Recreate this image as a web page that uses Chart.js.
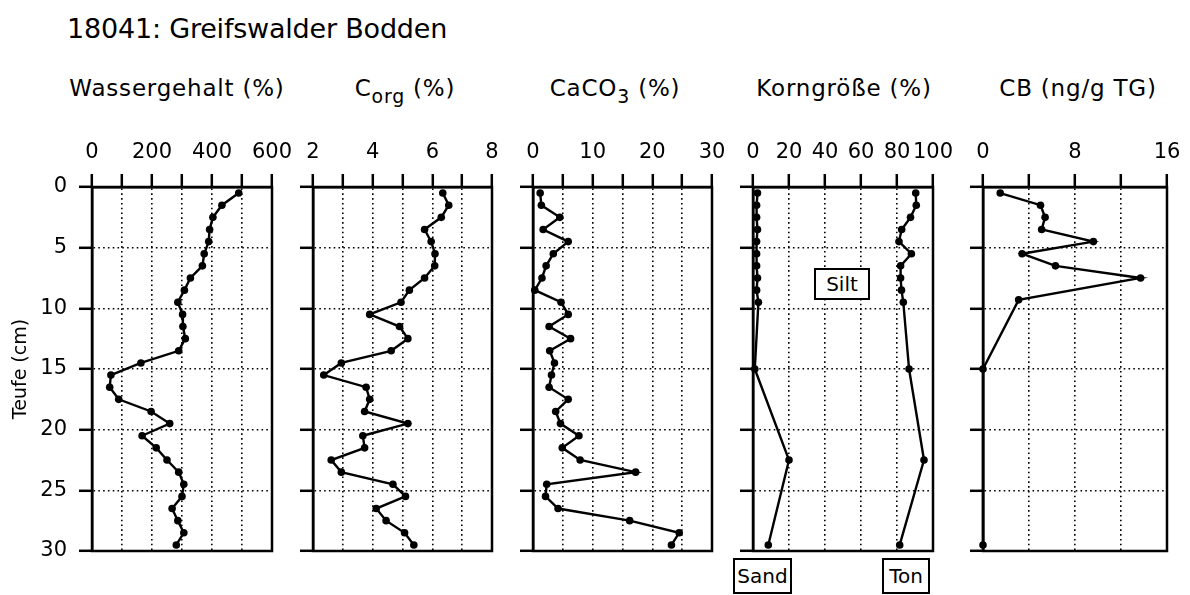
<!DOCTYPE html>
<html>
<head>
<meta charset="utf-8">
<script src="https://cdn.jsdelivr.net/npm/chart.js@4.4.1/dist/chart.umd.min.js"></script>
<style>
html,body{margin:0;padding:0;background:#fff;}
#wrap{position:relative;width:1190px;height:595px;overflow:hidden;font-family:"DejaVu Sans",sans-serif;color:#000;background:#fff;}
#wrap canvas{position:absolute;left:0;top:0;}
.t{position:absolute;white-space:nowrap;}
#title{left:67px;top:13px;font-size:27px;line-height:32px;letter-spacing:-0.2px;}
.sub{top:74px;font-size:23px;line-height:28px;transform:translateX(-50%);letter-spacing:0.8px;}
.sub sub{font-size:0.82em;vertical-align:-0.35em;line-height:0;}
.box{position:absolute;border:2px solid #000;box-sizing:border-box;text-align:center;font-size:20px;background:#fff;}
</style>
</head>
<body>
<div id="wrap">
  <div id="title" class="t">18041: Greifswalder Bodden</div>
  <div class="t sub" style="left:177px">Wassergehalt (%)</div>
  <div class="t sub" style="left:405px">C<sub>org</sub> (%)</div>
  <div class="t sub" style="left:615px">CaCO<sub>3</sub> (%)</div>
  <div class="t sub" style="left:844px">Korngröße (%)</div>
  <div class="t sub" style="left:1078px">CB (ng/g TG)</div>
  <canvas id="c1" width="1190" height="595"></canvas>
  <canvas id="c2" width="1190" height="595"></canvas>
  <canvas id="c3" width="1190" height="595"></canvas>
  <canvas id="c4" width="1190" height="595"></canvas>
  <canvas id="c5" width="1190" height="595"></canvas>
  <div class="box" style="left:814px;top:268px;width:56px;height:32px;line-height:28px;">Silt</div>
  <div class="box" style="left:733px;top:558px;width:59px;height:36px;line-height:32px;">Sand</div>
  <div class="box" style="left:882px;top:558px;width:48px;height:36px;line-height:32px;">Ton</div>
</div>
<script>
// ---- data (depth in cm) ----
const depths = [0.5,1.5,2.5,3.5,4.5,5.5,6.5,7.5,8.5,9.5,10.5,11.5,12.5,13.5,14.5,15.5,16.5,17.5,18.5,19.5,20.5,21.5,22.5,23.5,24.5,25.5,26.5,27.5,28.5,29.5];
const wassergehalt = [489,433,403,392,389,374,368,328,308,286,302,303,311,289,163,63,59,89,197,259,167,214,250,289,306,300,267,286,306,281];
const corg = [6.35,6.55,6.30,5.74,5.96,6.09,6.08,5.74,5.23,4.95,3.90,4.90,5.18,4.62,2.95,2.36,3.78,3.90,3.73,5.18,3.67,3.73,2.61,2.95,4.68,5.10,4.12,4.45,5.07,5.38];
const caco3 = [1.2,1.4,4.5,1.7,5.9,3.4,2.2,1.5,0.3,4.7,5.9,2.7,6.3,2.8,3.6,3.1,2.7,5.9,3.8,4.6,7.7,4.9,7.9,17.2,2.3,2.1,4.2,16.2,24.5,23.2];
const kornDepths = [0.5,1.5,2.5,3.5,4.5,5.5,6.5,7.5,8.5,9.5,15,22.5,29.5];
const sand = [2.5,2,2,2.5,2,2,2,2.5,2,3,1,20,8.5];
const ton = [90.4,90.7,87.5,82.6,81.1,88,82,82,82.5,83.5,86.7,95,81.5];
const cbDepths = [0.5,1.5,2.5,3.5,4.5,5.5,6.5,7.5,9.3,15,29.5];
const cb = [1.5,5,5.4,5.1,9.6,3.4,6.3,13.7,3.1,0,0];

// tick labels
const depthTicks = [0,5,10,15,20,25,30];
const wasserTicks = [0,200,400,600];
const corgTicks = [2,4,6,8];
const caco3Ticks = [0,10,20,30];
const kornTicks = [0,20,40,60,80,100];
const cbTicks = [0,8,16];

const pts = (xs, ys) => xs.map((v, i) => ({x: v, y: ys[i]}));

const panels = [
  {id:'c1', left:92,  right:272,  min:0, max:600, step:100, labels:wasserTicks, series:[pts(wassergehalt, depths)], first:true},
  {id:'c2', left:313, right:492,  min:2, max:8,   step:1,   labels:corgTicks,   series:[pts(corg, depths)]},
  {id:'c3', left:533, right:712,  min:0, max:30,  step:5,   labels:caco3Ticks,  series:[pts(caco3, depths)]},
  {id:'c4', left:753, right:933,  min:0, max:100, step:20,  labels:kornTicks,   series:[pts(sand, kornDepths), pts(ton, kornDepths)]},
  {id:'c5', left:983, right:1167, min:0, max:16,  step:4,   labels:cbTicks,     series:[pts(cb, cbDepths)]}
];

const TOP = 187, BOTTOM = 551, XH = 60;
const FONT = {family:'"DejaVu Sans", sans-serif', size:21};

const frame = {
  id:'frame',
  afterDatasetsDraw(chart){
    const {ctx, chartArea:a} = chart;
    ctx.save();
    ctx.lineWidth = 2.5;
    ctx.strokeStyle = '#000';
    ctx.setLineDash([]);
    ctx.beginPath();
    ctx.moveTo(a.left, a.top);
    ctx.lineTo(a.right, a.top);
    ctx.lineTo(a.right, a.bottom);
    ctx.lineTo(a.left, a.bottom);
    ctx.closePath();
    ctx.stroke();
    ctx.restore();
  }
};

panels.forEach(p => {
  const yW = p.first ? p.left : 60;
  const gridOpts = {color:'#000', lineWidth:1.6, tickLength:13, tickWidth:2.5, tickColor:'#000'};
  new Chart(document.getElementById(p.id), {
    type:'scatter',
    data:{
      datasets: p.series.map(s => ({
        data:s, showLine:true, borderColor:'#000', borderWidth:2.4,
        pointRadius:3.8, pointBackgroundColor:'#000', pointBorderColor:'#000', pointBorderWidth:0,
        clip:false, tension:0
      }))
    },
    options:{
      responsive:false, animation:false, devicePixelRatio:1,
      events:[],
      layout:{padding:{left:p.left - yW, right:1190 - p.right, top:TOP - XH, bottom:595 - BOTTOM}},
      plugins:{legend:{display:false}, tooltip:{enabled:false}, title:{display:false}},
      scales:{
        x:{
          type:'linear', position:'top', min:p.min, max:p.max,
          ticks:{stepSize:p.step, autoSkip:false, maxRotation:0, minRotation:0, padding:9, color:'#000', font:FONT,
            callback:(v) => p.labels.includes(v) ? String(v) : ''},
          grid:gridOpts,
          border:{display:true, color:'#000', width:2.5, dash:[1.6,3.2]},
          afterFit(s){ s.height = XH; s.paddingLeft = 0; s.paddingRight = 0; }
        },
        y:{
          type:'linear', position:'left', reverse:true, min:0, max:30,
          ticks:{stepSize:5, display:!!p.first, padding:12, color:'#000', font:FONT,
            callback:(v) => depthTicks.includes(v) ? String(v) : ''},
          grid:gridOpts,
          border:{display:true, color:'#000', width:2.5, dash:[1.6,3.2]},
          title:{display:!!p.first, text:'Teufe (cm)', color:'#000', font:{family:'"DejaVu Sans", sans-serif', size:19}, padding:{top:10, bottom:0}},
          afterFit(s){ s.width = yW; s.paddingTop = 0; s.paddingBottom = 0; }
        }
      }
    },
    plugins:[frame]
  });
});
</script>
</body>
</html>
